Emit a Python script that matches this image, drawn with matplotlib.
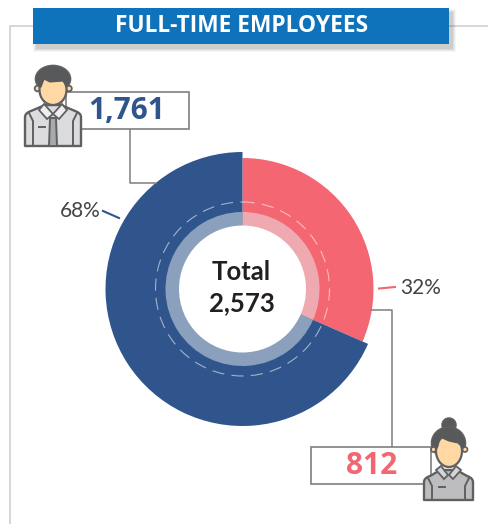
import matplotlib
matplotlib.use("Agg")
import matplotlib.pyplot as plt
import numpy as np
from matplotlib.patches import Rectangle, Circle, Ellipse, Polygon, PathPatch
from matplotlib.path import Path

categories = ["Women", "Men"]
values = [812, 1761]
shares = ["32%", "68%"]
total_label = "Total\n2,573"
title = "FULL-TIME EMPLOYEES"
count_labels = ["812", "1,761"]

BLUE = "#30558c"; PINK = "#f46772"; HEAD = "#0f73bb"; GREY = "#7f7f7f"; DARK = "#5f6062"; SKIN = "#ffd8a3"
C = (242.5, 289)

fig = plt.figure(figsize=(4.88, 5.24), dpi=100)
ax = fig.add_axes([0, 0, 1, 1])
colors = [PINK, BLUE]

# y axis points down, so counterclock=True runs clockwise on screen from the top
wedges, _ = ax.pie(values, colors=colors, startangle=-90, counterclock=True, center=C, radius=137,
                   wedgeprops=dict(linewidth=0), frame=True)
wedges[0].set_radius(131)
ax.pie(values, colors=["#eeaab0", "#8aa0bc"], startangle=-90, counterclock=True, center=C, radius=77,
       wedgeprops=dict(linewidth=0, width=14), frame=True)
ax.set_xlim(0, 488); ax.set_ylim(524, 0); ax.set_aspect("equal"); ax.axis("off")

ax.add_patch(Circle(C, 63.5, fc="white", ec="none", zorder=3))
ax.add_patch(Circle(C, 87, fc="none", ec=(1, 1, 1, 0.55), lw=0.8, ls=(0, (11, 6.5)), zorder=3))

# frame
ax.plot([33, 10, 10], [26, 26, 524], color="#cfcfcf", lw=1.2, zorder=1)
ax.plot([449, 488], [26, 26], color="#cfcfcf", lw=1.2, zorder=1)

# header
for i, a in enumerate([0.05, 0.07, 0.09, 0.11]):
    g = 4 - i
    ax.add_patch(Rectangle((37 - g, 13 - g), 416 + 2*g - 1, 36 + 2*g - 1, fc="#555555", ec="none", alpha=a, zorder=4))
ax.add_patch(Rectangle((33, 8), 416, 36, fc=HEAD, ec="none", zorder=5))
ax.text(241.5, 26.5, title, color="white", fontsize=16.4, fontweight="bold", family="Open Sans",
        ha="center", va="center", zorder=6)

# callouts
ax.plot([130, 130, 156], [129, 183, 183], color=GREY, lw=1.1, zorder=2)
ax.plot([371, 392, 392], [310, 310, 447], color=GREY, lw=1.1, zorder=2)
ax.add_patch(Rectangle((66, 92), 122.5, 37, fc="white", ec=GREY, lw=1.2, zorder=4))
ax.add_patch(Rectangle((311, 447), 120, 37, fc="white", ec=GREY, lw=1.2, zorder=4))
ax.text(126.5, 111, count_labels[1], color=BLUE, fontsize=21.5, fontweight="bold", family="Open Sans",
        ha="center", va="center", zorder=5)
ax.text(372, 465.5, count_labels[0], color=PINK, fontsize=21.5, fontweight="bold", family="Open Sans",
        ha="center", va="center", zorder=5)

# share labels
ax.plot([103, 119], [211, 218], color=BLUE, lw=1.5, zorder=2)
ax.plot([379, 395], [288.5, 287], color=PINK, lw=1.5, zorder=2)
ax.text(80, 211, shares[1], color="#444444", fontsize=15, family="Lato", ha="center", va="center")
ax.text(421, 288, shares[0], color="#444444", fontsize=15, family="Lato", ha="center", va="center")

ax.text(241.5, 288, total_label, color="#231f20", fontsize=18.5, fontweight="bold", family="Lato",
        ha="center", va="center", linespacing=1.35, zorder=6)

def body(x0, x1, ytop, ybot, fc):
    mid = (x0 + x1) / 2
    v = [(x0, ybot), (x0, ytop + 12), (x0, ytop + 8), (x0 + 6, ytop + 6), (mid - 8, ytop),
         (mid + 8, ytop), (x1 - 6, ytop + 6), (x1, ytop + 8), (x1, ytop + 12), (x1, ybot), (x0, ybot)]
    c = [Path.MOVETO, Path.LINETO, Path.CURVE3, Path.CURVE3, Path.LINETO,
         Path.LINETO, Path.LINETO, Path.CURVE3, Path.CURVE3, Path.LINETO, Path.CLOSEPOLY]
    ax.add_patch(PathPatch(Path(v, c), fc=fc, ec=DARK, lw=1.7, joinstyle="round", zorder=7))
    ax.plot([x0 + 8, x0 + 8, x0 + 4], [ybot, ytop + 16, ytop + 8], color=DARK, lw=1.4, zorder=8)
    ax.plot([x1 - 8, x1 - 8, x1 - 4], [ybot, ytop + 16, ytop + 8], color=DARK, lw=1.4, zorder=8)

# man
body(25, 81, 105, 146, "#dcdcde")
ax.add_patch(Polygon([(50, 118), (56, 118), (57, 146), (49, 146)], fc="#a8a9ab", ec=DARK, lw=1.4, zorder=9))
ax.add_patch(Polygon([(53, 114), (44, 104), (39, 110), (47, 119)], fc="#eeeeee", ec=DARK, lw=1.3, zorder=9))
ax.add_patch(Polygon([(53, 114), (62, 104), (67, 110), (59, 119)], fc="#eeeeee", ec=DARK, lw=1.3, zorder=9))
ax.plot([39, 45], [127, 127], color=DARK, lw=1.4, zorder=9)
ax.add_patch(Ellipse((53, 79), 35, 27, fc="#58595b", ec=DARK, lw=1.2, zorder=8))
ax.add_patch(Circle((37.5, 88.5), 2.8, fc=SKIN, ec=DARK, lw=1.3, zorder=8))
ax.add_patch(Circle((69, 88.5), 2.8, fc=SKIN, ec=DARK, lw=1.3, zorder=8))
ax.add_patch(Ellipse((53, 90), 27, 30, fc=SKIN, ec=DARK, lw=1.6, zorder=9))
fringe = [(39, 87), (40, 74), (55, 70), (67, 75), (67, 86), (63, 81), (50, 82), (44, 79), (41, 87)]
ax.add_patch(Polygon(fringe, closed=True, fc="#58595b", ec="#58595b", lw=0.8, joinstyle="round", zorder=10))

# woman
body(424, 473, 470, 500, "#bdbdc0")
ax.add_patch(Polygon([(448, 475), (441, 466), (436, 470), (444, 479)], fc="#d5d5d7", ec=DARK, lw=1.3, zorder=9))
ax.add_patch(Polygon([(449, 475), (456, 466), (461, 470), (453, 479)], fc="#d5d5d7", ec=DARK, lw=1.3, zorder=9))
ax.plot([439, 445], [487, 487], color=DARK, lw=1.4, zorder=9)
ax.add_patch(Circle((449, 425), 7, fc="#58595b", ec=DARK, lw=1.1, zorder=7))
ax.add_patch(Ellipse((448.5, 443), 34, 32, fc="#58595b", ec=DARK, lw=1.1, zorder=8))
ax.add_patch(Circle((433.5, 449.5), 2.5, fc=SKIN, ec=DARK, lw=1.2, zorder=8))
ax.add_patch(Circle((465, 449.5), 2.5, fc=SKIN, ec=DARK, lw=1.2, zorder=8))
ax.add_patch(Ellipse((449, 451), 26, 32, fc=SKIN, ec=DARK, lw=1.6, zorder=9))
hair2 = [(436, 450), (436, 438), (449, 433), (462, 438), (463, 448), (458, 443), (449, 441), (440, 437), (438, 446)]
ax.add_patch(Polygon(hair2, closed=True, fc="#58595b", ec="#58595b", lw=0.8, joinstyle="round", zorder=10))

fig.savefig("out.png", dpi=100)
